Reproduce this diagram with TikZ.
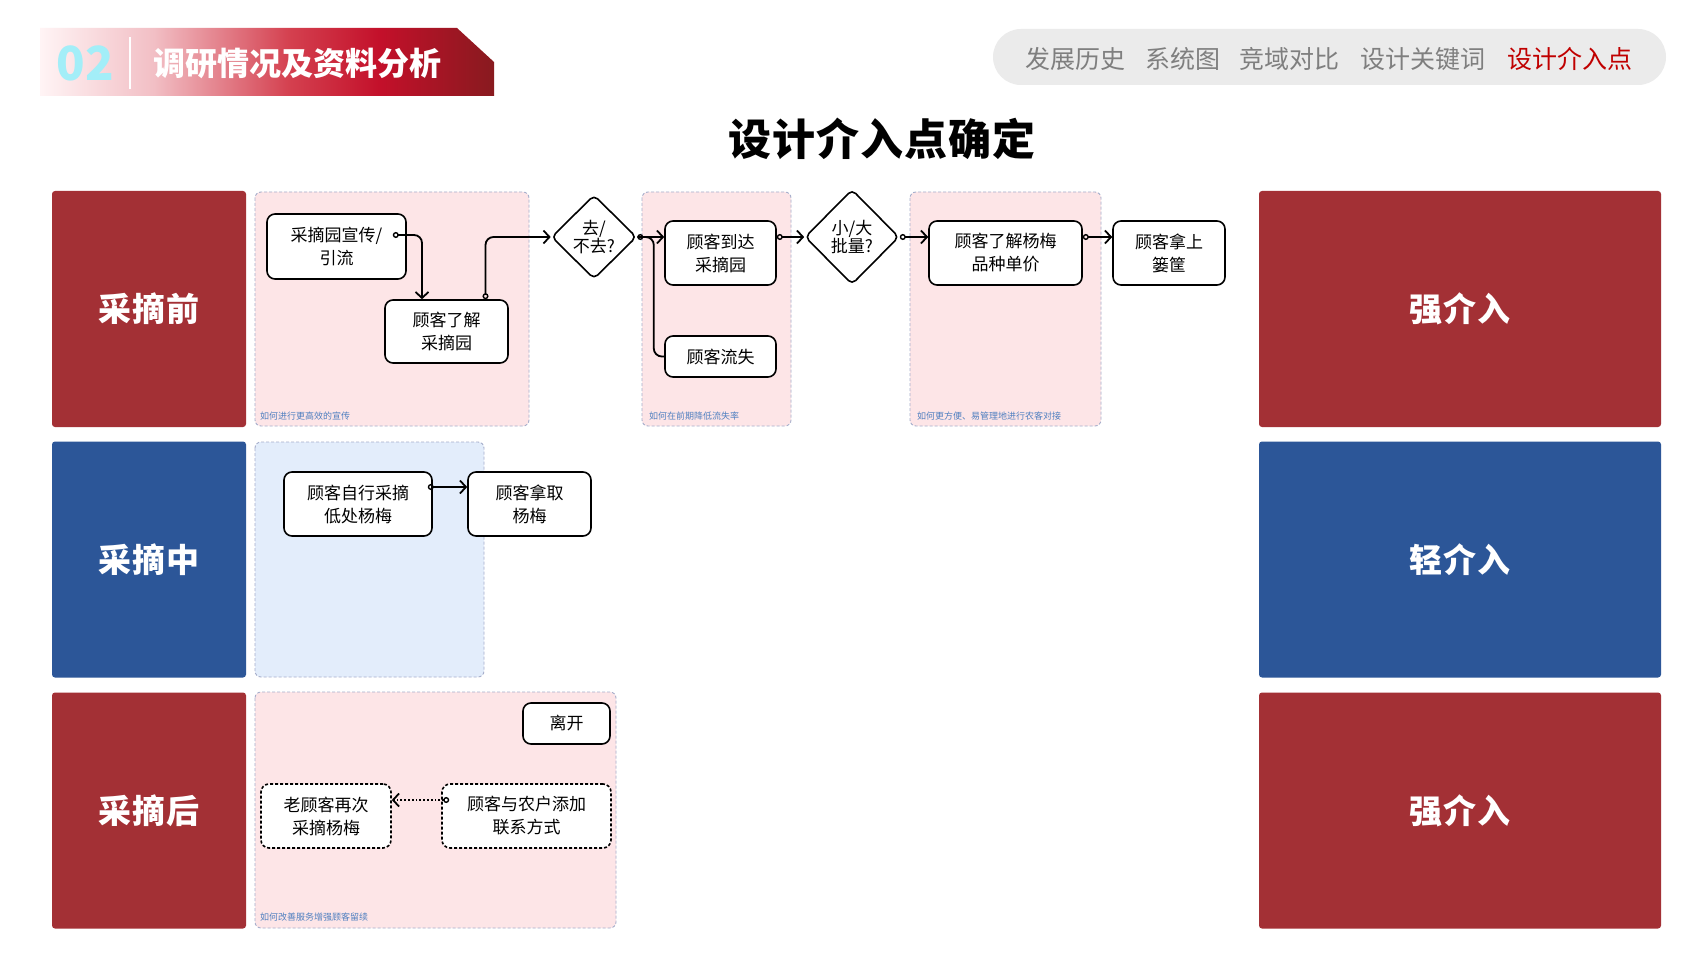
\documentclass[tikz,border=0pt]{standalone}
\usepackage{fontspec}
\setmainfont{Noto Sans CJK SC}
\usetikzlibrary{arrows.meta,shapes.geometric,calc}
\definecolor{redbox}{HTML}{A33035}
\definecolor{bluebox}{HTML}{2C5698}
\definecolor{pinkarea}{HTML}{FDE5E7}
\definecolor{bluearea}{HTML}{E3EDFB}
\definecolor{areaborder}{HTML}{A6AECB}
\definecolor{notecol}{HTML}{4F7FC0}
\definecolor{navgray}{HTML}{EBEBEB}
\definecolor{navtext}{HTML}{7F7F7F}
\definecolor{navred}{HTML}{C00000}
\definecolor{cyan02}{HTML}{A3EEF8}
\definecolor{bnA}{HTML}{FFF4F5}
\definecolor{bnB}{HTML}{F2BFC5}
\definecolor{bnC}{HTML}{D4404F}
\definecolor{bnD}{HTML}{C3102A}
\definecolor{bnE}{HTML}{881A1F}
\pgfdeclarehorizontalshading{banner}{100bp}{color(0bp)=(bnA); color(25bp)=(bnA); color(37.5bp)=(bnB); color(52.5bp)=(bnC); color(62.5bp)=(bnD); color(75bp)=(bnE); color(100bp)=(bnE)}
\begin{document}
\begin{tikzpicture}[x=1pt,y=-1pt,
  box/.style={draw=black, line width=1.6pt, rounded corners=8pt, fill=white, align=center, inner sep=0pt, font=\fontsize{17}{23}\selectfont},
  dbox/.style={box, dash pattern=on 3pt off 2pt},
  dia/.style={diamond, draw=black, line width=1.6pt, fill=white, align=center, inner sep=-9pt, rounded corners=5pt, font=\fontsize{17}{18}\selectfont},
  phase/.style={rounded corners=3pt, text=white, minimum width=194pt, minimum height=236pt, font=\fontsize{33}{35}\selectfont\bfseries\addfontfeature{LetterSpace=3}},
  level/.style={rounded corners=3pt, text=white, minimum width=402pt, minimum height=236pt, font=\fontsize{33}{35}\selectfont\bfseries\addfontfeature{LetterSpace=3}},
  area/.style={draw=areaborder, line width=0.9pt, dash pattern=on 3pt off 2pt, rounded corners=6pt},
  note/.style={anchor=west, text=notecol, inner sep=0pt, font=\fontsize{9}{10}\selectfont},
  nav/.style={text=navtext, inner sep=0pt, font=\fontsize{25}{27}\selectfont},
  conn/.style={draw=black, line width=1.8pt, rounded corners=8pt, {Circle[open,length=6pt,width=6pt,line width=1.4pt]}-{Straight Barb[length=6pt,width=13pt,line width=1.8pt]}},
  plain/.style={draw=black, line width=1.8pt, rounded corners=8pt}
]
\useasboundingbox (0,0) rectangle (1707,960);
\fill[white] (0,0) rectangle (1707,960);

% header banner
\path[shading=banner] (40,28) -- (457,28) -- (494,62) -- (494,96) -- (40,96) -- cycle;
\node[text=cyan02, font=\fontsize{47}{49}\selectfont\bfseries, inner sep=0pt] (num) at (85,63) {02};
\draw[white, line width=1.5pt] (130,37) -- (130,89);
\node[text=white, font=\fontsize{32}{34}\selectfont\bfseries, inner sep=0pt] (head) at (297,63) {调研情况及资料分析};

% navigation pill
\fill[navgray, rounded corners=28pt] (993,29) rectangle (1666,85);
\node[nav] (nv1) at (1075.5,59) {发展历史};
\node[nav] (nv2) at (1182.5,59) {系统图};
\node[nav] (nv3) at (1289.5,59) {竞域对比};
\node[nav] (nv4) at (1422.5,59) {设计关键词};
\node[nav, text=navred] (nv5) at (1569.5,59) {设计介入点};

% title
\node[font=\fontsize{43}{45}\selectfont\bfseries\addfontfeature{LetterSpace=2}, inner sep=0pt] (title) at (882,139) {设计介入点确定};

% phase boxes
\node[phase, fill=redbox] (p1) at (149,309) {采摘前};
\node[phase, fill=bluebox] (p2) at (149,559.5) {采摘中};
\node[phase, fill=redbox] (p3) at (149,810.5) {采摘后};
\node[level, fill=redbox] (r1) at (1460,309) {强介入};
\node[level, fill=bluebox] (r2) at (1460,559.5) {轻介入};
\node[level, fill=redbox] (r3) at (1460,810.5) {强介入};

% areas
\path[area, fill=pinkarea] (255,192) rectangle (529,426);
\path[area, fill=pinkarea] (642,192) rectangle (791,426);
\path[area, fill=pinkarea] (910,192) rectangle (1101,426);
\path[area, fill=bluearea] (255,442) rectangle (484,677);
\path[area, fill=pinkarea] (255,692) rectangle (616,928);
\node[note] (l1) at (260,416) {如何进行更高效的宣传};
\node[note] (l2) at (649,416) {如何在前期降低流失率};
\node[note] (l3) at (917,416) {如何更方便、易管理地进行农客对接};
\node[note] (l4) at (260,917) {如何改善服务增强顾客留续};

% flow nodes
\node[box, minimum width=139pt, minimum height=65pt] (n1) at (336.5,246.5) {采摘园宣传/\\引流};
\node[box, minimum width=123pt, minimum height=63pt] (n2) at (446.5,331.5) {顾客了解\\采摘园};
\node[dia, minimum width=85pt, minimum height=84pt] (d1) at (594,237) {去/\\不去?};
\node[box, minimum width=111pt, minimum height=64pt] (n3) at (720.5,253) {顾客到达\\采摘园};
\node[box, minimum width=111pt, minimum height=41pt] (n4) at (720.5,356.5) {顾客流失};
\node[dia, minimum width=94pt, minimum height=95pt] (d2) at (852,237) {小/大\\批量?};
\node[box, minimum width=153pt, minimum height=64pt] (n5) at (1005.5,253) {顾客了解杨梅\\品种单价};
\node[box, minimum width=112pt, minimum height=64pt] (n6) at (1169,253) {顾客拿上\\篓筐};
\node[box, minimum width=148pt, minimum height=64pt] (n7) at (358,504) {顾客自行采摘\\低处杨梅};
\node[box, minimum width=123pt, minimum height=64pt] (n8) at (529.5,504) {顾客拿取\\杨梅};
\node[box, minimum width=87pt, minimum height=41pt] (n9) at (566.5,723.5) {离开};
\node[dbox, minimum width=130pt, minimum height=64pt] (n10) at (326,816) {老顾客再次\\采摘杨梅};
\node[dbox, minimum width=169pt, minimum height=64pt] (n11) at (526.5,816) {顾客与农户添加\\联系方式};

% connectors
\draw[conn] ([xshift=-14pt,yshift=11.5pt]n1.east) -| ([xshift=-24.5pt]n2.north);
\draw[conn] ([xshift=39pt]n2.north) |- (d1.west);
\draw[plain] (d1.east) -- ++(16.5,0) |- (n4.west);
\draw[conn] (d1.east) -- (d1.east -| n3.west);
\draw[conn] ([yshift=16pt]n3.east) -- (d2.west);
\draw[conn] (d2.east) -- (d2.east -| n5.west);
\draw[conn] ([yshift=16pt]n5.east) -- ([yshift=16pt]n6.west);
\draw[conn] ([xshift=-5pt,yshift=17pt]n7.east) -- ([yshift=17pt]n8.west);
\draw[conn, dotted] ([xshift=8pt,yshift=16pt]n11.west) -- ([yshift=16pt]n10.east);
\end{tikzpicture}
\end{document}
